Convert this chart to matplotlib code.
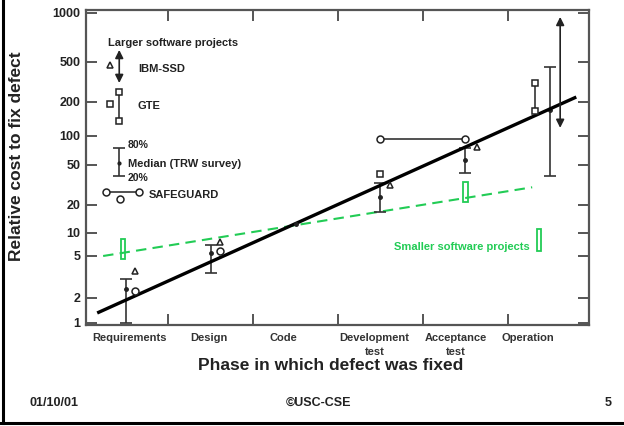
import numpy as np
import matplotlib
matplotlib.use("Agg")
import matplotlib.pyplot as plt
from matplotlib.lines import Line2D

plt.rcParams["font.family"] = ["Liberation Sans", "DejaVu Sans"]
plt.rcParams["font.weight"] = "bold"

# categories
phases = ["Requirements", "Design", "Code", "Development\ntest", "Acceptance\ntest", "Operation"]
phase_x = [0, 1, 2, 3, 4, 5]

# y tick values of the (hand drawn) log axis and where they sit, in px from the bottom
yticks = [1, 2, 5, 10, 20, 50, 100, 200, 500, 1000]
ytick_h = [0, 25, 67, 90, 118, 158, 187, 221, 261, 310]

# Median (TRW survey) with 20% / 80% range
trw_x = [0, 1, 3, 4, 5]
trw_med = [2.44, 5.5, 24, 57, 170]
trw_lo = [1.0, 3.46, 16.8, 41.7, 39]
trw_hi = [3.0, 7.0, 33, 75, 446]
code_x, code_med = 2, 12.5

# IBM-SSD
ibm_x = [0.1, 1.11, 3.11, 4.14]
ibm_y = [3.6, 7.6, 31.7, 77]

# GTE
gte_x = [3.0]
gte_y = [40.7]
gte_range_x = 4.82
gte_range = [166, 309]

# SAFEGUARD
sg_x = [0.1, 1.11]
sg_y = [2.33, 5.8]
sg_range_x = [3.0, 4.0]
sg_range_y = 93

# smaller software projects
small_x = [-0.035, 4.0]
small_lo = [4.7, 21.4]
small_hi = [8.4, 33.9]
small_fit_x = [-0.27, 4.79]
small_fit_y = [5, 30]

# larger software projects
large_fit_x = [-0.34, 5.31]
large_fit_y = [1.32, 224]
large_arrow_x = 5.12
large_arrow = [118, 946]

green = "#22cc55"
grey = "#555555"

# piecewise log scale that follows the drawn axis
lg = np.concatenate([[-1.0], np.log10(yticks), [4.0]])
ht = np.concatenate([[-83.0], ytick_h, [473.0]])


def fwd(v):
    v = np.clip(np.asarray(v, dtype=float), 1e-6, None)
    return np.interp(np.log10(v), lg, ht)


def inv(h):
    return 10 ** np.interp(np.asarray(h, dtype=float), ht, lg)


fig = plt.figure(figsize=(6.24, 4.26), dpi=100)
ax = fig.add_axes([86 / 624, 1 - 325 / 426, 503 / 624, 315 / 426])
ax.set_yscale("function", functions=(fwd, inv))
ax.set_xlim(-0.472, 5.46)
ax.set_ylim(0.946, 1043)

for s in ax.spines.values():
    s.set_color(grey)
    s.set_linewidth(1.6)

ax.set_yticks(yticks)
ax.set_yticklabels([str(v) for v in yticks], fontsize=9, fontweight="bold",
                   color="#222222")
ax.yaxis.set_minor_locator(matplotlib.ticker.NullLocator())
ax.tick_params(axis="y", which="major", direction="in", length=8, width=1.4,
               color=grey, right=True, pad=4)

# labels under each phase, separators between phases
ax.set_xticks([0.04, 0.98, 1.86, 2.93, 3.89, 4.74])
ax.set_xticklabels(phases, fontsize=8, fontweight="bold", color="#333333",
                   linespacing=1.45)
ax.tick_params(axis="x", which="major", length=0, pad=6)
ax.set_xticks([0.5, 1.5, 2.5, 3.5, 4.5], minor=True)
ax.tick_params(axis="x", which="minor", direction="in", length=8, width=1.4,
               color=grey, top=True)

# trend lines
ax.plot(large_fit_x, large_fit_y, color="black", lw=2.4, solid_capstyle="butt", zorder=3)
ax.plot(small_fit_x, small_fit_y, color=green, lw=1.5, ls=(0, (5, 3)), zorder=2)
ax.bar(small_x, np.array(small_hi) - np.array(small_lo), bottom=small_lo, width=0.055,
       fill=False, edgecolor=green, linewidth=1.3, zorder=2)

# TRW survey medians
med = np.array(trw_med)
ax.errorbar(trw_x, trw_med, yerr=[med - np.array(trw_lo), np.array(trw_hi) - med],
            fmt="o", ms=2.5, color="#222222", ecolor="#333333", elinewidth=1.2,
            capsize=4, capthick=1.2, zorder=2)
ax.plot([code_x], [code_med], "o", ms=2.5, color="#222222", zorder=4)

mk = dict(mfc="white", mec="#222222", mew=1.1, ls="none", zorder=5)
ax.plot(ibm_x, ibm_y, "^", ms=4.5, **mk)
ax.plot(gte_x, gte_y, "s", ms=4, **mk)
ax.plot([gte_range_x, gte_range_x], gte_range, "-s", ms=4, color="#333333", lw=1.2,
        mfc="white", mec="#222222", mew=1.1, zorder=5)
ax.plot(sg_x, sg_y, "o", ms=5, **mk)
ax.plot(sg_range_x, [sg_range_y, sg_range_y], "-o", ms=5, color="#333333", lw=1.2,
        mfc="white", mec="#222222", mew=1.1, zorder=5)

ax.annotate("", xy=(large_arrow_x, large_arrow[1]), xytext=(large_arrow_x, large_arrow[0]),
            arrowprops=dict(arrowstyle="<|-|>", color="#222222", lw=1.2,
                            mutation_scale=12, shrinkA=0, shrinkB=0))

# key drawn inside the plot
key_x = -0.08
ax.text(-0.21, 655, "Larger software projects", fontsize=8, fontweight="bold",
        va="center", color="#222222")
ax.annotate("", xy=(key_x, 593), xytext=(key_x, 309),
            arrowprops=dict(arrowstyle="<|-|>", color="#222222", lw=1.2,
                            mutation_scale=12, shrinkA=0, shrinkB=0))
ax.plot([-0.19], [467], "^", ms=4.5, **mk)
ax.text(0.14, 426, "IBM-SSD", fontsize=8, fontweight="bold", va="center", color="#222222")
ax.plot([-0.19], [192], "s", ms=4, **mk)
ax.plot([key_x, key_x], [136, 252], "-s", ms=4, color="#333333", lw=1.2,
        mfc="white", mec="#222222", mew=1.1, zorder=5)
ax.text(0.14, 184, "GTE", fontsize=8, fontweight="bold", va="center", color="#222222")
ax.errorbar([key_x], [52], yerr=[[52 - 39], [75 - 52]], fmt="o", ms=2, color="#222222",
            ecolor="#333333", elinewidth=1.2, capsize=4, capthick=1.2)
ax.text(0.02, 80, "80%", fontsize=7.5, fontweight="bold", va="center", color="#222222")
ax.text(0.02, 51, "Median (TRW survey)", fontsize=8, fontweight="bold", va="center",
        color="#222222")
ax.text(0.02, 37, "20%", fontsize=7.5, fontweight="bold", va="center", color="#222222")
ax.plot([-0.24, 0.15], [26.9, 26.9], "-o", ms=5, color="#333333", lw=1.2,
        mfc="white", mec="#222222", mew=1.1, zorder=5)
ax.plot([-0.07], [23], "o", ms=5, **mk)
ax.text(0.27, 25, "SAFEGUARD", fontsize=8, fontweight="bold", va="center", color="#222222")
ax.bar([4.87], [11 - 5.8], bottom=[5.8], width=0.055, fill=False, edgecolor=green,
       linewidth=1.3)
ax.text(4.76, 6.5, "Smaller software projects", fontsize=8, fontweight="bold",
        ha="right", va="center", color=green)

# axis titles and slide footer
fig.text(17 / 624, 1 - 156 / 426, "Relative cost to fix defect", rotation=90,
         fontsize=12.5, fontweight="bold", ha="center", va="center", color="#222222")
fig.text(331 / 624, 1 - 366 / 426, "Phase in which defect was fixed",
         fontsize=12.5, fontweight="bold", ha="center", va="center", color="#222222")
fig.text(29 / 624, 1 - 403 / 426, "01/10/01", fontsize=9, fontweight="bold",
         va="center", color="#222222")
fig.text(319 / 624, 1 - 403 / 426, "©USC-CSE", fontsize=9, fontweight="bold",
         ha="center", va="center", color="#222222")
fig.text(608 / 624, 1 - 403 / 426, "5", fontsize=9, fontweight="bold",
         ha="center", va="center", color="#222222")

# slide frame (left and bottom edges)
fig.add_artist(Line2D([3 / 624, 3 / 624], [3 / 426, 1], color="black", lw=2.2))
fig.add_artist(Line2D([0, 1], [3 / 426, 3 / 426], color="black", lw=2.2))

fig.savefig("out.png", dpi=100)
